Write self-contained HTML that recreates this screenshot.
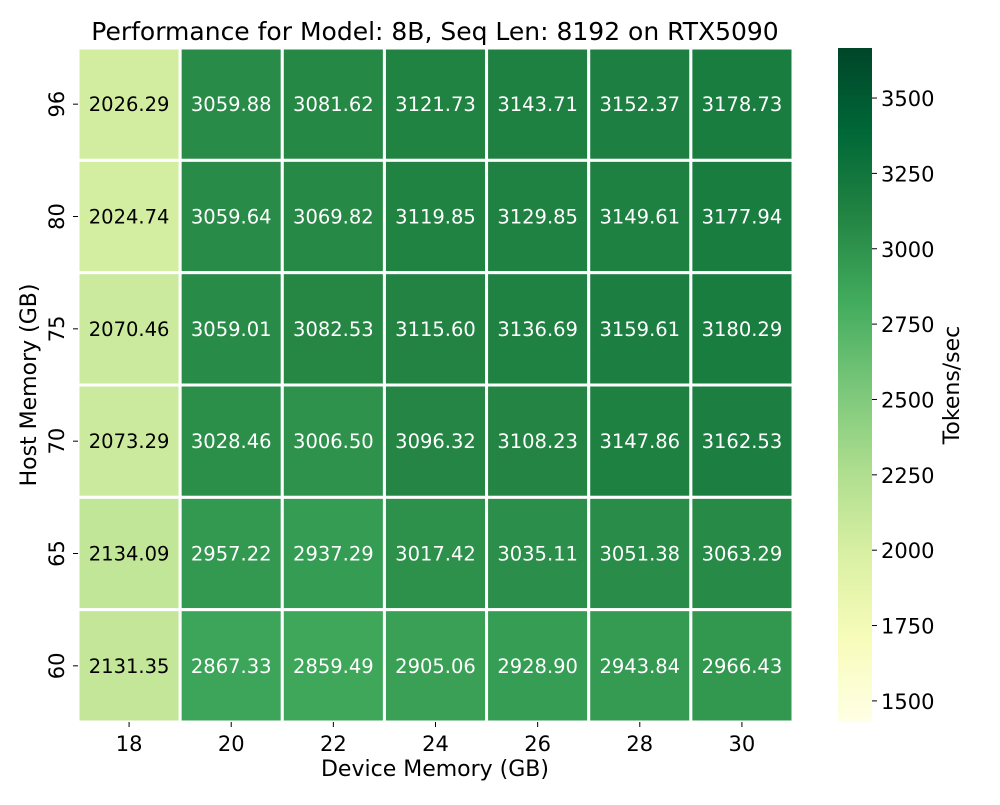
<!DOCTYPE html>
<html><head><meta charset="utf-8"><style>
body{margin:0;background:#fff;font-family:"Liberation Sans","DejaVu Sans",sans-serif;}
svg text{font-family:"DejaVu Sans","Liberation Sans",sans-serif;}
</style></head><body>
<svg id="chart" width="1000" height="800" xmlns="http://www.w3.org/2000/svg">
<defs><linearGradient id="cbg" x1="0" y1="1" x2="0" y2="0">
<stop offset="0" stop-color="#ffffe5"/><stop offset="0.125" stop-color="#f7fcb9"/><stop offset="0.25" stop-color="#d9f0a3"/><stop offset="0.375" stop-color="#addd8e"/><stop offset="0.5" stop-color="#78c679"/><stop offset="0.625" stop-color="#41ab5d"/><stop offset="0.75" stop-color="#238443"/><stop offset="0.875" stop-color="#006837"/><stop offset="1" stop-color="#004529"/>
</linearGradient></defs>
<text x="435" y="40" font-size="25" text-anchor="middle">Performance for Model: 8B, Seq Len: 8192 on RTX5090</text>
<g id="cells"></g>
<text x="435" y="776" font-size="22" text-anchor="middle">Device Memory (GB)</text>
<text x="36" y="385" font-size="22" text-anchor="middle" transform="rotate(-90 36 385)">Host Memory (GB)</text>
<rect x="838" y="48" width="34" height="674" fill="url(#cbg)"/>
<g id="cbticks"></g>
<text x="959" y="385" font-size="22" text-anchor="middle" transform="rotate(-90 959 385)">Tokens/sec</text>
</svg>
<script>
const xLabels=["18","20","22","24","26","28","30"];
const yLabels=["96","80","75","70","65","60"];
const values=[
[2026.29,3059.88,3081.62,3121.73,3143.71,3152.37,3178.73],
[2024.74,3059.64,3069.82,3119.85,3129.85,3149.61,3177.94],
[2070.46,3059.01,3082.53,3115.60,3136.69,3159.61,3180.29],
[2073.29,3028.46,3006.50,3096.32,3108.23,3147.86,3162.53],
[2134.09,2957.22,2937.29,3017.42,3035.11,3051.38,3063.29],
[2131.35,2867.33,2859.49,2905.06,2928.90,2943.84,2966.43]];
const cbTicks=[1500,1750,2000,2250,2500,2750,3000,3250,3500];
const vmin=1430,vmax=3666;
const X0=78,X1=793,Y0=48,Y1=722;
const cw=(X1-X0)/xLabels.length,ch=(Y1-Y0)/yLabels.length;
const stops=["#ffffe5","#f7fcb9","#d9f0a3","#addd8e","#78c679","#41ab5d","#238443","#006837","#004529"].map(h=>[1,3,5].map(i=>parseInt(h.substr(i,2),16)));
function cmap(v){let t=Math.max(0,Math.min(1,(v-vmin)/(vmax-vmin)))*8;let i=Math.min(7,Math.floor(t)),f=t-i;
return stops[i].map((c,k)=>Math.round(c+(stops[i+1][k]-c)*f));}
function lum(c){const l=c.map(x=>{x/=255;return x<=0.03928?x/12.92:Math.pow((x+0.055)/1.055,2.4)});return 0.2126*l[0]+0.7152*l[1]+0.0722*l[2];}
const NS="http://www.w3.org/2000/svg",svg=document.getElementById("chart"),g=document.getElementById("cells");
function mk(t,a,p){const e=document.createElementNS(NS,t);for(const k in a)e.setAttribute(k,a[k]);(p||g).appendChild(e);return e;}
const yScale=v=>722-(v-vmin)/(vmax-vmin)*674;
values.forEach((row,r)=>row.forEach((v,c)=>{
 const col=cmap(v);
 const rc=mk("rect",{x:X0+c*cw,y:Y0+r*ch,width:cw,height:ch,fill:`rgb(${col})`,stroke:"#fff","stroke-width":3});
 
 
 const t=mk("text",{x:X0+c*cw+cw/2,y:Y0+r*ch+ch/2+7,"font-size":19.5,"text-anchor":"middle",fill:lum(col)<0.408?"#fff":"#000"});
 t.textContent=v.toFixed(2);
 
 
}));
xLabels.forEach((l,i)=>{const x=X0+i*cw+cw/2;
 mk("line",{x1:x,x2:x,y1:Y1,y2:Y1+5,stroke:"#000"});
 const t=mk("text",{x:x,y:Y1+29,"font-size":21,"text-anchor":"middle"});t.textContent=l;
 
 });
yLabels.forEach((l,i)=>{const y=Y0+i*ch+ch/2;
 mk("line",{x1:X0-5,x2:X0,y1:y,y2:y,stroke:"#000"});
 const t=mk("text",{x:64,y:y,"font-size":21,"text-anchor":"middle",transform:`rotate(-90 64 ${y})`});t.textContent=l;
 
 });
const cbg=document.getElementById("cbticks");
cbTicks.forEach(v=>{const y=yScale(v);
 mk("line",{x1:872,x2:877,y1:y,y2:y,stroke:"#000"},cbg);
 const t=mk("text",{x:881,y:y+8,"font-size":21},cbg);t.textContent=v;
 
 });
</script>
</body></html>
